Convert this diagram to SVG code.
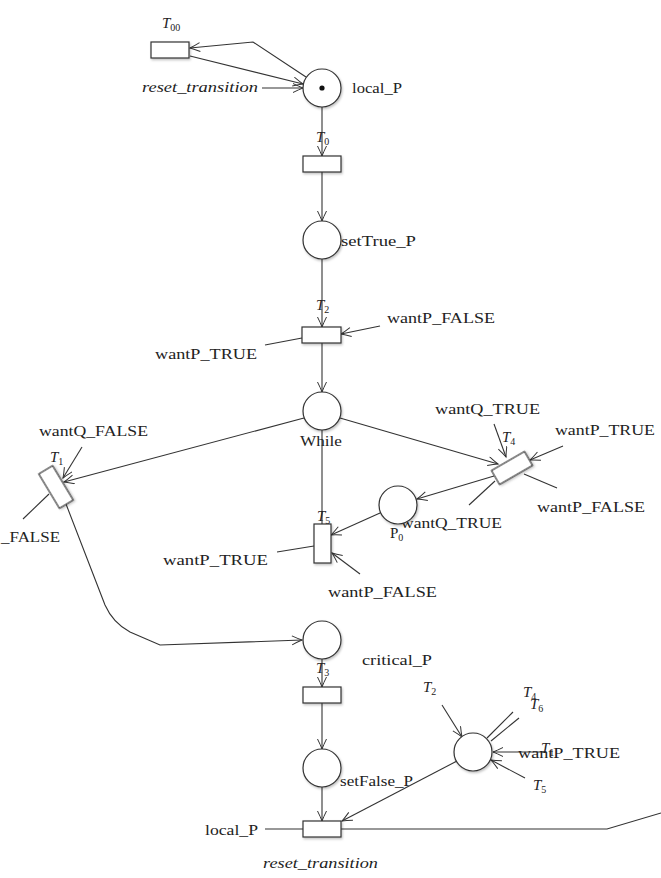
<svg xmlns="http://www.w3.org/2000/svg" width="661" height="878" viewBox="0 0 661 878">
<style>
.tr{fill:#fff;stroke:#333;stroke-width:1.2;filter:url(#sh)}
.pl{fill:#fff;stroke:#333;stroke-width:1.2;filter:url(#sh)}
.c{fill:none;stroke:#333;stroke-width:1.1}
.a{marker-end:url(#ar)}
text{font-family:"Liberation Serif","DejaVu Serif",serif;font-size:15px;fill:#222}
.it{font-style:italic}
.sub{font-size:10px;font-style:normal}
</style>
<defs>
<filter id="sh" x="-30%" y="-30%" width="160%" height="160%">
<feDropShadow dx="1" dy="1.5" stdDeviation="1.2" flood-color="#000" flood-opacity="0.25"/>
</filter>
<marker id="ar" markerUnits="userSpaceOnUse" markerWidth="14" markerHeight="12" refX="11" refY="5" orient="auto">
<path d="M1,0.5 Q7,3.5 11,5 Q7,6.5 1,9.5" fill="none" stroke="#333" stroke-width="1"/>
</marker>
</defs>
<g id="connectors">
<path class="c a" d="M306,77 L253,42 L190,48"/>
<path class="c a" d="M190,56 L303,84"/>
<path class="c a" d="M262,88 L303,88"/>
<path class="c a" d="M322,107 L322,156"/>
<path class="c a" d="M322,172 L322,221"/>
<path class="c a" d="M322,259 L322,327"/>
<path class="c a" d="M380,326 L341,334"/>
<path class="c" d="M265,345 L302,338"/>
<path class="c a" d="M322,343 L322,392"/>
<path class="c a" d="M304,418 L64,482"/>
<path class="c a" d="M82,447 L63,478"/>
<path class="c" d="M23,519 L49,494"/>
<path class="c a" d="M66,504 L105,605 Q113,623 130,632 L160,645 L302,640"/>
<path class="c a" d="M340,418 L498,464"/>
<path class="c a" d="M494,424 L506,457"/>
<path class="c a" d="M563,446 L530,460"/>
<path class="c" d="M557,488 L524,474"/>
<path class="c" d="M469,505 L495,481"/>
<path class="c a" d="M494,476 L417,499"/>
<path class="c a" d="M380,513 L331,535"/>
<path class="c" d="M322,430 L322,524"/>
<path class="c" d="M277,552 L314,546"/>
<path class="c a" d="M360,574 L332,553"/>
<path class="c a" d="M322,659 L322,687"/>
<path class="c a" d="M322,703 L322,749"/>
<path class="c a" d="M322,787 L322,821"/>
<path class="c" d="M265,829 L303,829"/>
<path class="c" d="M341,829 L607,829 L661,813"/>
<path class="c a" d="M457,761 L342,821"/>
<path class="c a" d="M442,705 L462,737"/>
<path class="c" d="M513,712 L487,738"/>
<path class="c" d="M519,718 L491,741"/>
<path class="c a" d="M545,752 L493,752"/>
<path class="c a" d="M525,778 L491,760"/>
</g>
<g id="T00">
<rect class="tr" x="151" y="42" width="38" height="16"/>
<text class="it" x="162" y="28">T<tspan class="sub" dy="3">00</tspan></text>
</g>
<g id="reset_transition_top">
<text class="it" x="142" y="92" textLength="116" lengthAdjust="spacingAndGlyphs">reset_transition</text>
</g>
<g id="local_P">
<circle class="pl" cx="322" cy="88" r="19"/>
<circle cx="322" cy="88" r="2.6" fill="#111"/>
<text x="352" y="93" textLength="50" lengthAdjust="spacingAndGlyphs">local_P</text>
</g>
<g id="T0">
<rect class="tr" x="303" y="156" width="38" height="16"/>
<text class="it" x="316" y="142">T<tspan class="sub" dy="3">0</tspan></text>
</g>
<g id="setTrue_P">
<circle class="pl" cx="322" cy="240" r="19"/>
<text x="341" y="246" textLength="75" lengthAdjust="spacingAndGlyphs">setTrue_P</text>
</g>
<g id="T2">
<rect class="tr" x="302" y="327" width="39" height="16"/>
<text class="it" x="316" y="310">T<tspan class="sub" dy="3">2</tspan></text>
<text x="387" y="323" textLength="108" lengthAdjust="spacingAndGlyphs">wantP_FALSE</text>
<text x="155" y="359" textLength="102" lengthAdjust="spacingAndGlyphs">wantP_TRUE</text>
</g>
<g id="While">
<circle class="pl" cx="322" cy="411" r="19"/>
<text x="300" y="446" textLength="42" lengthAdjust="spacingAndGlyphs">While</text>
</g>
<g id="T1_left">
<rect class="tr" x="-8" y="-20" width="16" height="40" transform="translate(56,487) rotate(-31)"/>
<text class="it" x="50" y="462">T<tspan class="sub" dy="3">1</tspan></text>
<text x="39" y="436" textLength="109" lengthAdjust="spacingAndGlyphs">wantQ_FALSE</text>
<text x="1" y="542" textLength="59" lengthAdjust="spacingAndGlyphs">_FALSE</text>
</g>
<g id="T4">
<rect class="tr" x="-19" y="-8" width="38" height="16" transform="translate(512,468) rotate(-30)"/>
<text class="it" x="502" y="442">T<tspan class="sub" dy="3">4</tspan></text>
<text x="435" y="414" textLength="105" lengthAdjust="spacingAndGlyphs">wantQ_TRUE</text>
<text x="555" y="435" textLength="100" lengthAdjust="spacingAndGlyphs">wantP_TRUE</text>
<text x="537" y="512" textLength="108" lengthAdjust="spacingAndGlyphs">wantP_FALSE</text>
<text x="401" y="528" textLength="101" lengthAdjust="spacingAndGlyphs">wantQ_TRUE</text>
</g>
<g id="P0">
<circle class="pl" cx="398" cy="505" r="19"/>
<text x="390" y="538">P<tspan class="sub" dy="3">0</tspan></text>
</g>
<g id="T5">
<rect class="tr" x="314" y="524" width="17" height="39"/>
<text class="it" x="317" y="521">T<tspan class="sub" dy="3">5</tspan></text>
<text x="163" y="565" textLength="105" lengthAdjust="spacingAndGlyphs">wantP_TRUE</text>
<text x="328" y="597" textLength="109" lengthAdjust="spacingAndGlyphs">wantP_FALSE</text>
</g>
<g id="critical_P">
<circle class="pl" cx="322" cy="640" r="19"/>
<text x="362" y="665" textLength="70" lengthAdjust="spacingAndGlyphs">critical_P</text>
</g>
<g id="T3">
<rect class="tr" x="303" y="687" width="38" height="16"/>
<text class="it" x="316" y="673">T<tspan class="sub" dy="3">3</tspan></text>
</g>
<g id="setFalse_P">
<circle class="pl" cx="322" cy="768" r="19"/>
<text x="340" y="786" textLength="73" lengthAdjust="spacingAndGlyphs">setFalse_P</text>
</g>
<g id="wantP_place">
<circle class="pl" cx="473" cy="752" r="19"/>
<text class="it" x="423" y="692">T<tspan class="sub" dy="3">2</tspan></text>
<text class="it" x="523" y="697">T<tspan class="sub" dy="3">4</tspan></text>
<text class="it" x="530" y="709">T<tspan class="sub" dy="3">6</tspan></text>
<text x="518" y="758" textLength="102" lengthAdjust="spacingAndGlyphs">wantP_TRUE</text>
<text class="it" x="541" y="753">T<tspan class="sub" dy="3">1</tspan></text>
<text class="it" x="533" y="790">T<tspan class="sub" dy="3">5</tspan></text>
</g>
<g id="reset_transition">
<rect class="tr" x="303" y="821" width="38" height="16"/>
<text x="205" y="835" textLength="53" lengthAdjust="spacingAndGlyphs">local_P</text>
<text class="it" x="263" y="868" textLength="115" lengthAdjust="spacingAndGlyphs">reset_transition</text>
</g>
</svg>
